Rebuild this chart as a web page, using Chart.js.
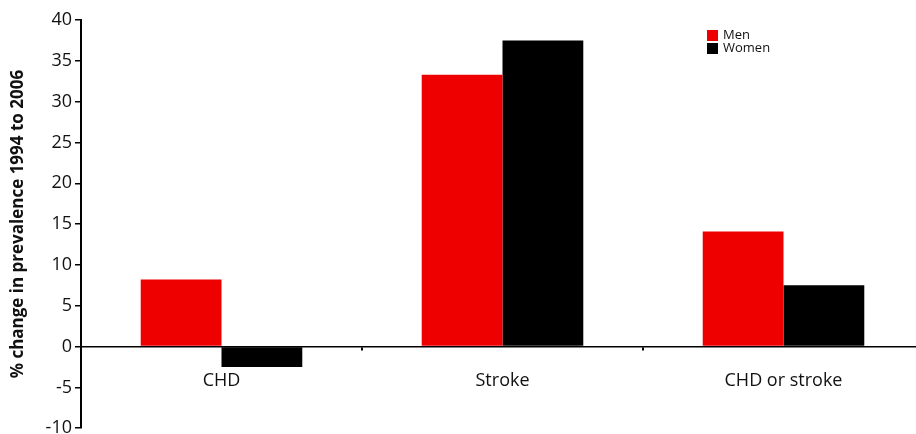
<!DOCTYPE html>
<html>
<head>
<meta charset="utf-8">
<script src="https://cdn.jsdelivr.net/npm/chart.js@4/dist/chart.umd.min.js"></script>
<style>
  html, body { margin: 0; padding: 0; background: #fff; overflow: hidden; }
  #wrap { position: relative; width: 924px; height: 442px; }
</style>
</head>
<body>
<div id="wrap"><canvas id="c"></canvas></div>
<script>
// Percentage change in prevalence, 1994 to 2006
const categories = ['CHD', 'Stroke', 'CHD or stroke'];
const menValues = [8.2, 33.3, 14.1];
const womenValues = [-2.5, 37.5, 7.5];
const yTicks = [40, 35, 30, 25, 20, 15, 10, 5, 0, -5, -10];

const FONT = '"Open Sans", "Noto Sans", sans-serif';

// Small boxed legend in the upper right
const cornerLegend = {
  id: 'cornerLegend',
  afterDraw(chart) {
    const ctx = chart.ctx;
    const x = 707, y0 = 30, step = 13, box = 11;
    ctx.save();
    ctx.font = '13px ' + FONT;
    ctx.textBaseline = 'middle';
    chart.data.datasets.forEach((ds, i) => {
      const y = y0 + i * step;
      ctx.fillStyle = ds.backgroundColor;
      ctx.fillRect(x, y, box, box);
      ctx.fillStyle = '#111';
      ctx.fillText(ds.label, x + box + 5, y + box / 2);
    });
    ctx.restore();
  }
};

new Chart(document.getElementById('c'), {
  type: 'bar',
  data: {
    labels: categories,
    datasets: [
      { label: 'Men', data: menValues, backgroundColor: '#ee0000' },
      { label: 'Women', data: womenValues, backgroundColor: '#000000' }
    ]
  },
  options: {
    responsive: true,
    maintainAspectRatio: false,
    animation: false,
    layout: { padding: { top: 20, bottom: 0, left: 0, right: 0 } },
    datasets: { bar: { barPercentage: 1, categoryPercentage: 0.575 } },
    plugins: {
      legend: { display: false },
      tooltip: { enabled: false }
    },
    scales: {
      x: {
        position: { y: 0 },
        offset: true,
        border: { display: true, color: '#000', width: 1.5 },
        grid: { display: true, drawOnChartArea: false, drawTicks: true, tickLength: 3, color: '#000', lineWidth: 2, offset: true },
        ticks: { color: '#111', font: { family: FONT, size: 18 }, padding: 21 }
      },
      y: {
        min: -10,
        max: 40,
        afterBuildTicks(scale) { scale.ticks = yTicks.map(v => ({ value: v })); },
        afterFit(scale) { scale.width = 81; },
        border: { display: true, color: '#000', width: 2 },
        grid: { display: true, drawOnChartArea: false, drawTicks: true, tickLength: 6, color: '#000', lineWidth: 1.5 },
        ticks: { color: '#111', font: { family: FONT, size: 18 }, padding: 3 },
        title: {
          display: true,
          text: '% change in prevalence 1994 to 2006',
          color: '#111',
          font: { family: FONT, size: 17, weight: 'bold' },
          padding: { top: 8, bottom: 0 }
        }
      }
    }
  },
  plugins: [cornerLegend]
});
</script>
</body>
</html>
